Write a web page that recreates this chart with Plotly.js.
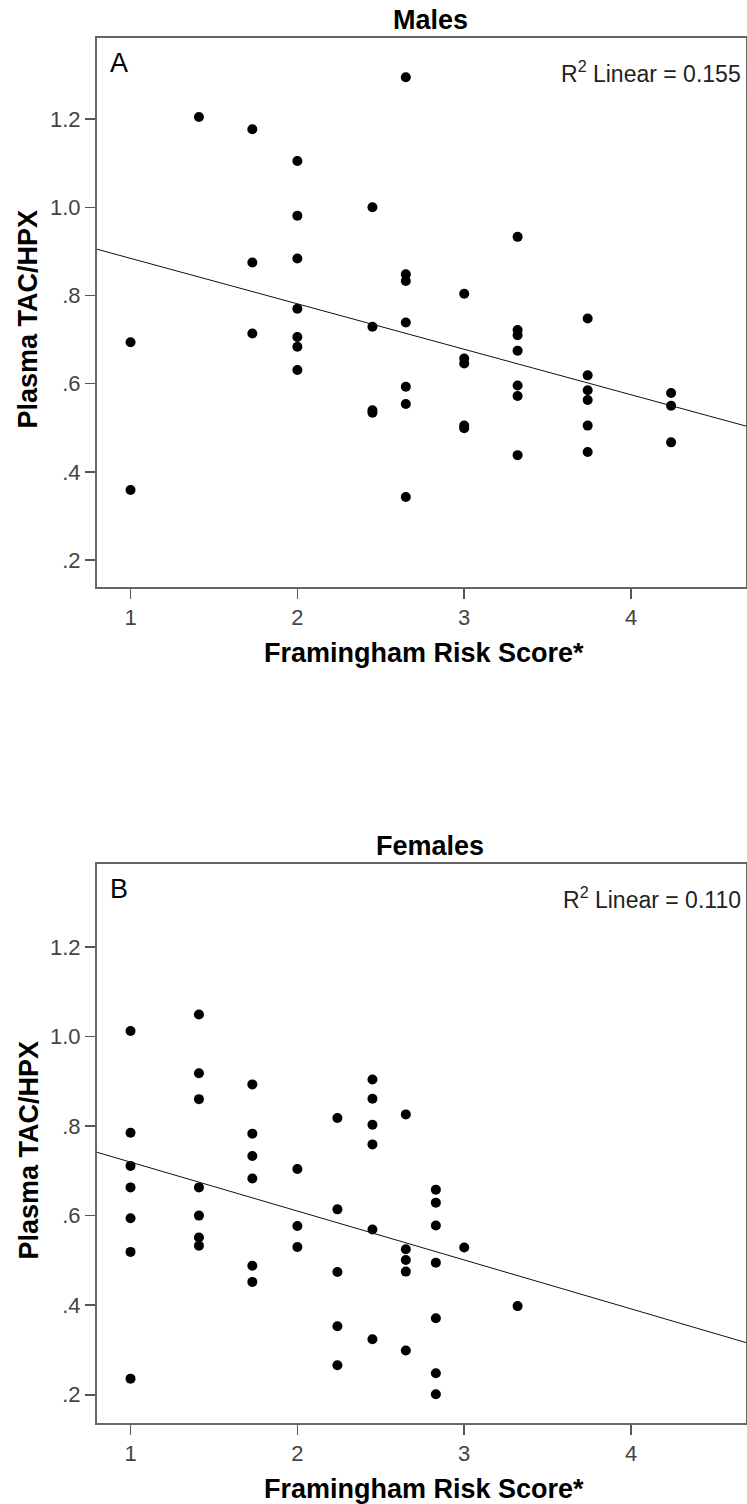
<!DOCTYPE html>
<html>
<head>
<meta charset="utf-8">
<script src="https://cdn.plot.ly/plotly-3.0.1.min.js"></script>
<style>html,body{margin:0;padding:0;background:#fff}#chart{width:747px;height:1504px}</style>
</head>
<body>
<div id="chart"></div>
<script>
// ---- Data ----
const panelTitles = ["Males", "Females"];
const panelLetters = ["A", "B"];
const r2Values = ["0.155", "0.110"];
const xAxisTitle = "Framingham Risk Score*";
const yAxisTitle = "Plasma TAC/HPX";
const xTickVals = [1, 2, 3, 4];
const xTickText = ["1", "2", "3", "4"];
const yTickVals = [0.2, 0.4, 0.6, 0.8, 1.0, 1.2];
const yTickText = [".2", ".4", ".6", ".8", "1.0", "1.2"];

const malesX = [1, 1,
  1.41,
  1.73, 1.73, 1.73,
  2, 2, 2, 2, 2, 2, 2,
  2.45, 2.45, 2.45, 2.45,
  2.65, 2.65, 2.65, 2.65, 2.65, 2.65, 2.65,
  3, 3, 3, 3, 3,
  3.32, 3.32, 3.32, 3.32, 3.32, 3.32, 3.32,
  3.74, 3.74, 3.74, 3.74, 3.74, 3.74,
  4.24, 4.24, 4.24];
const malesY = [0.694, 0.359,
  1.205,
  1.177, 0.875, 0.714,
  1.105, 0.981, 0.884, 0.770, 0.706, 0.684, 0.631,
  1.000, 0.729, 0.540, 0.534,
  1.295, 0.848, 0.833, 0.739, 0.593, 0.554, 0.343,
  0.804, 0.657, 0.646, 0.505, 0.499,
  0.933, 0.722, 0.710, 0.675, 0.596, 0.572, 0.438,
  0.748, 0.619, 0.585, 0.563, 0.505, 0.445,
  0.579, 0.550, 0.467];

const femalesX = [1, 1, 1, 1, 1, 1, 1,
  1.41, 1.41, 1.41, 1.41, 1.41, 1.41, 1.41,
  1.73, 1.73, 1.73, 1.73, 1.73, 1.73,
  2, 2, 2,
  2.24, 2.24, 2.24, 2.24, 2.24,
  2.45, 2.45, 2.45, 2.45, 2.45, 2.45,
  2.65, 2.65, 2.65, 2.65, 2.65,
  2.83, 2.83, 2.83, 2.83, 2.83, 2.83, 2.83,
  3,
  3.32];
const femalesY = [1.012, 0.785, 0.711, 0.663, 0.594, 0.519, 0.236,
  1.049, 0.918, 0.860, 0.663, 0.600, 0.551, 0.533,
  0.893, 0.783, 0.733, 0.683, 0.488, 0.452,
  0.704, 0.577, 0.530,
  0.818, 0.614, 0.474, 0.353, 0.266,
  0.904, 0.861, 0.803, 0.759, 0.569, 0.324,
  0.826, 0.525, 0.501, 0.475, 0.299,
  0.658, 0.629, 0.578, 0.495, 0.371, 0.248, 0.201,
  0.529,
  0.398];

// ---- Layout geometry ----
const W = 747, H = 1504;
const xRange = [0.799, 4.689];
const yRangeA = [0.139, 1.384];
const yRangeB = [0.137, 1.385];
const plotLeft = 97, plotRight = 746;
const boxA = [38, 587], boxB = [864, 1423];

function fit(xs, ys) {
  const n = xs.length;
  const mx = xs.reduce((a, b) => a + b, 0) / n;
  const my = ys.reduce((a, b) => a + b, 0) / n;
  let sxy = 0, sxx = 0;
  for (let i = 0; i < n; i++) { sxy += (xs[i] - mx) * (ys[i] - my); sxx += (xs[i] - mx) ** 2; }
  const b = sxy / sxx;
  return { a: my - b * mx, b: b };
}
const fA = fit(malesX, malesY);
const fB = fit(femalesX, femalesY);

const markerStyle = { color: "#000", size: 10, line: { width: 0 } };
const lineStyle = { color: "#111", width: 1 };

const traces = [
  { x: malesX, y: malesY, type: "scatter", mode: "markers", marker: markerStyle, xaxis: "x", yaxis: "y", hoverinfo: "x+y" },
  { x: xRange, y: xRange.map(v => fA.a + fA.b * v), type: "scatter", mode: "lines", line: lineStyle, xaxis: "x", yaxis: "y" },
  { x: femalesX, y: femalesY, type: "scatter", mode: "markers", marker: markerStyle, xaxis: "x2", yaxis: "y2", hoverinfo: "x+y" },
  { x: xRange, y: xRange.map(v => fB.a + fB.b * v), type: "scatter", mode: "lines", line: lineStyle, xaxis: "x2", yaxis: "y2" }
];

const px = v => v / W;
const py = v => 1 - v / H;
const FONT = "Liberation Sans, Arial, Helvetica, sans-serif";
const tickFont = { family: FONT, size: 22, color: "#444" };

function xax(anchor) {
  return {
    domain: [px(plotLeft), px(plotRight)], range: xRange, anchor: anchor,
    tickmode: "array", tickvals: xTickVals, ticktext: xTickText,
    ticks: "outside", ticklen: 10, tickwidth: 1.5, tickcolor: "#555",
    showgrid: false, zeroline: false,
    showline: true, linecolor: "#666", linewidth: 2, mirror: true,
    tickfont: tickFont
  };
}
function yax(anchor, dom, rng) {
  return {
    domain: [py(dom[1]), py(dom[0])], range: rng, anchor: anchor,
    tickmode: "array", tickvals: yTickVals, ticktext: yTickText,
    ticks: "outside", ticklen: 10, tickwidth: 1.5, tickcolor: "#555",
    showgrid: false, zeroline: false,
    showline: true, linecolor: "#666", linewidth: 2, mirror: true,
    tickfont: tickFont
  };
}

const annotations = [];
const boxes = [boxA, boxB];
const titleFont = { family: FONT, size: 27, color: "#000", weight: "bold" };
for (let i = 0; i < 2; i++) {
  const b = boxes[i];
  annotations.push({ text: "<b>" + panelTitles[i] + "</b>", xref: "paper", yref: "paper",
    x: px(430), y: py(b[0] - 18), xanchor: "center", yanchor: "middle", showarrow: false, font: titleFont });
  annotations.push({ text: panelLetters[i], xref: "paper", yref: "paper",
    x: px(108), y: py(b[0] + 25), xanchor: "left", yanchor: "middle", showarrow: false,
    font: { family: FONT, size: 27, color: "#000" } });
  annotations.push({ text: "R<sup>2</sup> Linear = " + r2Values[i], xref: "paper", yref: "paper",
    x: px(743), y: py(b[0] + 34), xanchor: "right", yanchor: "middle", showarrow: false,
    font: { family: FONT, size: 23, color: "#222" } });
  annotations.push({ text: "<b>" + xAxisTitle + "</b>", xref: "paper", yref: "paper",
    x: px(424), y: py(b[1] + 66), xanchor: "center", yanchor: "middle", showarrow: false, font: titleFont });
  annotations.push({ text: "<b>" + yAxisTitle + "</b>", xref: "paper", yref: "paper",
    x: px(28), y: py((b[0] + b[1]) / 2 + 7), xanchor: "center", yanchor: "middle", textangle: -90,
    showarrow: false, font: titleFont });
}

const layout = {
  width: W, height: H,
  margin: { l: 0, r: 0, t: 0, b: 0 },
  paper_bgcolor: "#fff", plot_bgcolor: "#fff",
  showlegend: false,
  xaxis: xax("y"), yaxis: yax("x", boxA, yRangeA),
  xaxis2: xax("y2"), yaxis2: yax("x2", boxB, yRangeB),
  annotations: annotations
};

Plotly.newPlot("chart", traces, layout, { displayModeBar: false, staticPlot: true });
</script>
</body>
</html>
